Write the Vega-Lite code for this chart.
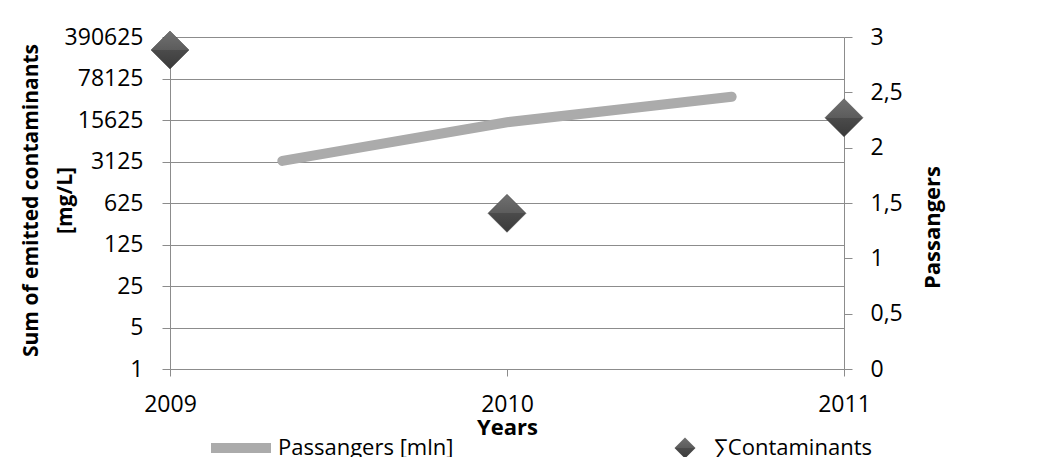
{
  "$schema": "https://vega.github.io/schema/vega-lite/v6.json",
  "autosize": "none",
  "width": 674,
  "height": 332,
  "padding": {"left": 170, "top": 37, "right": 220, "bottom": 88},
  "background": "white",
  "config": {
    "font": "Open Sans",
    "view": {"stroke": null},
    "locale": {"number": {"decimal": ",", "thousands": " ", "grouping": [3], "currency": ["", ""]}},
    "axis": {"labelColor": "black", "titleColor": "black", "domainColor": "#8c8c8c", "tickColor": "#8c8c8c", "gridColor": "#8c8c8c", "labelFont": "Open Sans", "titleFont": "Open Sans"},
    "legend": {"labelColor": "black", "labelFont": "Open Sans", "labelLimit": 400}
  },
  "datasets": {
    "passengers": [
      {"year": "2009", "p": 1.88},
      {"year": "2010", "p": 2.23},
      {"year": "2011", "p": 2.46}
    ],
    "contaminants": [
      {"year": "2009", "c": 236000},
      {"year": "2010", "c": 419},
      {"year": "2011", "c": 17060}
    ]
  },
  "layer": [
    {
      "data": {"name": "contaminants"},
      "mark": {"type": "point", "filled": true, "shape": "diamond", "size": 1444, "opacity": 1,
        "fill": {"gradient": "linear", "x1": 0, "y1": 0, "x2": 0, "y2": 1, "stops": [{"offset": 0, "color": "#707070"}, {"offset": 0.5, "color": "#5c5c5c"}, {"offset": 0.5, "color": "#4b4b4b"}, {"offset": 1, "color": "#3a3a3a"}]},
        "stroke": "#3c3c3c", "strokeWidth": 0.5},
      "encoding": {
        "x": {"field": "year", "type": "ordinal", "scale": {"type": "point", "padding": 0, "domain": ["2009", "2010", "2011"]},
          "axis": {"orient": "bottom", "labelAngle": 0, "tickSize": 7, "labelPadding": 17, "labelFontSize": 23, "domainColor": "#8c8c8c", "title": "Years", "titleFontWeight": "bold", "titleFontSize": 22, "titleBaseline": "alphabetic", "titleY": 65, "grid": false}},
        "y": {"field": "c", "type": "quantitative", "scale": {"type": "log", "base": 5, "domain": [1, 390625], "nice": false},
          "axis": {"orient": "left", "values": [1, 5, 25, 125, 625, 3125, 15625, 78125, 390625], "format": "d", "grid": true, "tickSize": 8, "labelPadding": 19, "labelFontSize": 23,
            "title": ["Sum of emitted contaminants", "[mg/L]"], "titleFontWeight": "bold", "titleFontSize": 21, "titleLineHeight": 34, "titleAngle": 270, "titleAlign": "center", "titleBaseline": "bottom", "titleX": -129, "titleY": 163}},
        "shape": {"datum": "∑Contaminants", "scale": {"range": ["diamond"]},
          "legend": {"orient": "none", "legendX": 504, "legendY": 400, "title": null, "padding": 0, "symbolSize": 441, "symbolFillColor": "#555555", "symbolStrokeColor": "#555555", "symbolStrokeWidth": 0, "labelFontSize": 22, "labelOffset": 18}}
      }
    },
    {
      "data": {"name": "passengers"},
      "mark": {"type": "line", "strokeWidth": 10, "strokeCap": "round"},
      "encoding": {
        "x": {"field": "year", "type": "ordinal", "scale": {"type": "point", "padding": 0.5, "domain": ["2009", "2010", "2011"]}, "axis": null},
        "y": {"field": "p", "type": "quantitative", "scale": {"domain": [0, 3], "nice": false, "zero": true},
          "axis": {"orient": "right", "values": [0, 0.5, 1, 1.5, 2, 2.5, 3], "format": "~g", "grid": false, "tickSize": 8, "labelPadding": 18, "labelFontSize": 23,
            "title": "Passangers", "titleFontWeight": "bold", "titleFontSize": 22, "titleAngle": 270, "titleAlign": "center", "titleBaseline": "middle", "titleX": 88, "titleY": 190}},
        "color": {"datum": "Passangers [mln]", "scale": {"range": ["#ababab"]},
          "legend": {"orient": "none", "legendX": 36, "legendY": 376, "title": null, "padding": 0, "symbolType": "stroke", "symbolSize": 3600, "symbolStrokeWidth": 10, "labelFontSize": 22, "labelOffset": 2}}
      }
    }
  ],
  "resolve": {"scale": {"x": "independent", "y": "independent", "color": "independent", "shape": "independent"}}
}
